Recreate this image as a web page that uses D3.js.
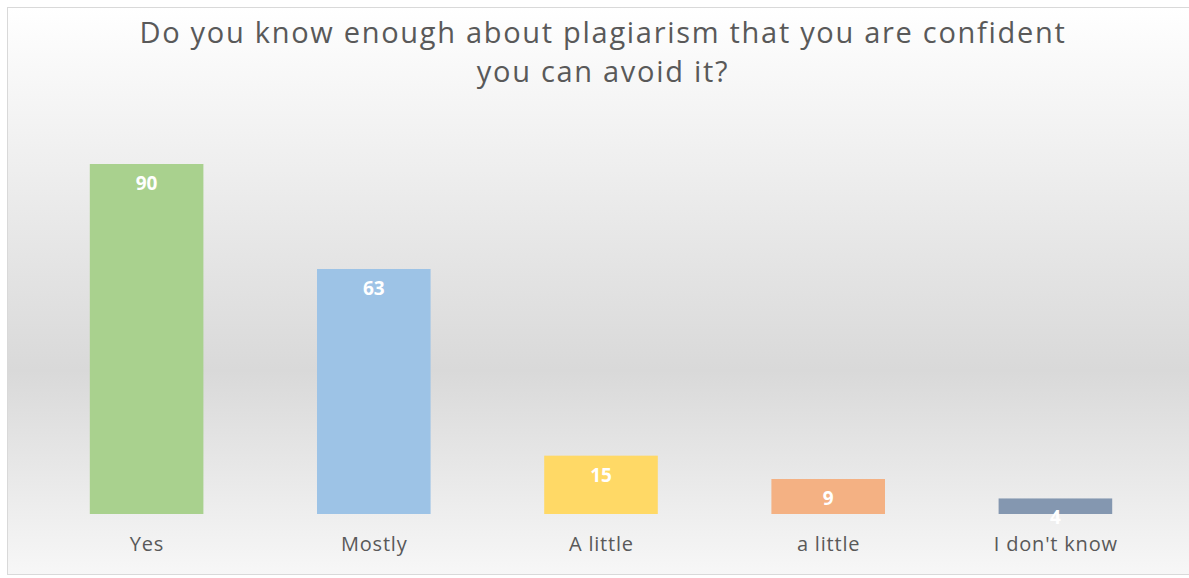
<!DOCTYPE html>
<html><head><meta charset="utf-8">
<script src="https://cdn.jsdelivr.net/npm/d3@7"></script>
<style>html,body{margin:0;padding:0;background:#fff;overflow:hidden}</style>
</head><body>
<svg id="c" width="1189" height="578"></svg>
<script>
const categories = ["Yes", "Mostly", "A little", "a little", "I don't know"];
const values = [90, 63, 15, 9, 4];
const colors = ["#a9d18e", "#9dc3e6", "#ffd966", "#f4b183", "#8497b0"];
const titleLines = ["Do you know enough about plagiarism that you are confident", "you can avoid it?"];

const svg = d3.select("#c");
const defs = svg.append("defs");
const g = defs.append("linearGradient").attr("id","bg").attr("x1",0).attr("y1",0).attr("x2",0).attr("y2",1);
g.append("stop").attr("offset","0%").attr("stop-color","#ffffff");
g.append("stop").attr("offset","64%").attr("stop-color","#d9d9d9");
g.append("stop").attr("offset","100%").attr("stop-color","#f7f7f7");

svg.append("rect").attr("x",7.5).attr("y",7.5).attr("width",1190).attr("height",567)
  .attr("fill","url(#bg)").attr("stroke","#d9d9d9").attr("stroke-width",1);

const x = d3.scaleBand().domain(categories).range([33, 1169]).paddingInner(0.5).paddingOuter(0.25);
const y = d3.scaleLinear().domain([0, 90]).range([514, 164]);

svg.selectAll("rect.bar").data(values).join("rect").attr("class","bar")
  .attr("x",(d,i)=>x(categories[i])).attr("width",x.bandwidth())
  .attr("y",d=>y(d)).attr("height",d=>y(0)-y(d))
  .attr("fill",(d,i)=>colors[i]);

svg.selectAll("text.val").data(values).join("text").attr("class","val")
  .attr("x",(d,i)=>x(categories[i])+x.bandwidth()/2)
  .attr("y",d=>y(d)+26)
  .attr("text-anchor","middle").attr("fill","#ffffff")
  .attr("font-family","'Open Sans', sans-serif").attr("font-weight","bold").attr("font-size",19)
  .text(d=>d);

const xAxis = d3.axisBottom(x).tickSize(0).tickPadding(0);
const ax = svg.append("g").attr("transform","translate(0,551)").call(xAxis);
ax.select(".domain").remove();
ax.selectAll("text").attr("font-family","'Open Sans', sans-serif").attr("font-size",20)
  .attr("letter-spacing","0.8px").attr("dx","0.4px")
  .attr("fill","#595959").attr("dy",0);

svg.selectAll("text.title").data(titleLines).join("text").attr("class","title")
  .attr("x",603).attr("y",(d,i)=>43+i*39)
  .attr("text-anchor","middle").attr("fill","#595959")
  .attr("font-family","'Open Sans', sans-serif").attr("font-size",29)
  .attr("letter-spacing","1.7px")
  .text(d=>d);
</script>
</body></html>
